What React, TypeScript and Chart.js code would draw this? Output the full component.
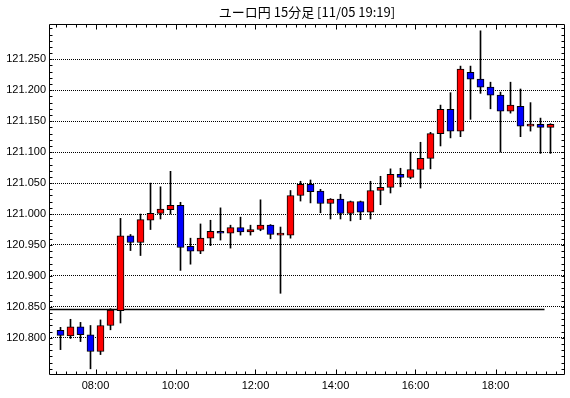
import React, { useEffect, useRef } from 'react';
import { Chart, registerables } from 'chart.js';

Chart.register(...registerables);

const title = 'ユーロ円 15分足 [11/05 19:19]';

const times = [
  '07:00', '07:15', '07:30', '07:45', '08:00', '08:15', '08:30', '08:45',
  '09:00', '09:15', '09:30', '09:45', '10:00', '10:15', '10:30', '10:45',
  '11:00', '11:15', '11:30', '11:45', '12:00', '12:15', '12:30', '12:45',
  '13:00', '13:15', '13:30', '13:45', '14:00', '14:15', '14:30', '14:45',
  '15:00', '15:15', '15:30', '15:45', '16:00', '16:15', '16:30', '16:45',
  '17:00', '17:15', '17:30', '17:45', '18:00', '18:15', '18:30', '18:45',
  '19:00', '19:15',
];

const opens = [
  120.812, 120.803, 120.818, 120.805, 120.778, 120.820, 120.844, 120.965,
  120.954, 120.990, 121.001, 121.007, 121.014, 120.948, 120.940, 120.961,
  120.972, 120.969, 120.978, 120.971, 120.975, 120.982, 120.966, 120.966,
  121.030, 121.048, 121.037, 121.017, 121.024, 121.001, 121.020, 121.003,
  121.038, 121.043, 121.064, 121.059, 121.072, 121.090, 121.130, 121.169,
  121.134, 121.229, 121.218, 121.205, 121.192, 121.166, 121.174, 121.142,
  121.145, 121.140,
];
const highs = [
  120.817, 120.830, 120.825, 120.820, 120.829, 120.847, 120.993, 120.967,
  121.000, 121.050, 121.044, 121.069, 121.019, 120.961, 120.984, 120.990,
  121.010, 120.982, 120.995, 120.982, 121.023, 120.983, 120.979, 121.038,
  121.053, 121.055, 121.040, 121.025, 121.032, 121.021, 121.021, 121.053,
  121.061, 121.073, 121.074, 121.100, 121.116, 121.132, 121.176, 121.196,
  121.239, 121.239, 121.296, 121.213, 121.197, 121.213, 121.202, 121.180,
  121.155, 121.146,
];
const lows = [
  120.781, 120.799, 120.794, 120.750, 120.773, 120.813, 120.824, 120.941,
  120.933, 120.975, 120.992, 121.000, 120.909, 120.919, 120.936, 120.949,
  120.958, 120.945, 120.966, 120.966, 120.973, 120.960, 120.872, 120.961,
  121.021, 121.018, 121.002, 120.992, 120.992, 120.989, 120.991, 120.992,
  121.015, 121.034, 121.044, 121.057, 121.042, 121.073, 121.110, 121.123,
  121.125, 121.153, 121.195, 121.170, 121.100, 121.163, 121.125, 121.134,
  121.098, 121.098,
];
const closes = [
  120.804, 120.818, 120.805, 120.778, 120.820, 120.845, 120.965, 120.954,
  120.991, 121.001, 121.008, 121.014, 120.946, 120.940, 120.961, 120.972,
  120.969, 120.978, 120.971, 120.975, 120.982, 120.967, 120.966, 121.030,
  121.048, 121.036, 121.017, 121.024, 121.001, 121.020, 121.003, 121.038,
  121.043, 121.064, 121.059, 121.072, 121.090, 121.130, 121.169, 121.134,
  121.234, 121.218, 121.205, 121.192, 121.166, 121.176, 121.142, 121.145,
  121.140, 121.145,
];

const hourLabels = ['08:00', '10:00', '12:00', '14:00', '16:00', '18:00'];
const yLabels = [120.8, 120.85, 120.9, 120.95, 121.0, 121.05, 121.1, 121.15, 121.2, 121.25];
const refLevel = 120.846;
const refEndIndex = 48.4;

const X_MIN = -1.15;
const X_MAX = 50.45;
const Y_MIN = 120.74;
const Y_MAX = 121.307;

const UP = '#ff0000';
const DOWN = '#0000ff';
const FONT = { family: '"Liberation Sans", Arial, sans-serif', size: 11 };

const hourPositions = hourLabels.map((h) => times.indexOf(h) - 0.5);

const framePlugin = {
  id: 'frame',
  afterDraw(chart: any) {
    const { ctx, chartArea: a, scales } = chart;
    const xs = scales.x;
    const ys = scales.y;
    ctx.save();
    ctx.strokeStyle = '#000';
    ctx.lineWidth = 1;
    const L = Math.round(a.left) + 0.5;
    const R = Math.round(a.right) - 0.5;
    const T = Math.round(a.top) + 0.5;
    const B = Math.round(a.bottom) - 0.5;
    ctx.beginPath();
    // frame
    ctx.rect(L, T, R - L, B - T);
    // x ticks (bottom and top, inward)
    for (let v = -0.5; v <= times.length - 0.5; v += 1) {
      const px = Math.round(xs.getPixelForValue(v)) + 0.5;
      if (px <= L || px >= R) continue;
      const len = hourPositions.includes(v) ? 5 : 3;
      ctx.moveTo(px, B);
      ctx.lineTo(px, B - len);
      ctx.moveTo(px, T);
      ctx.lineTo(px, T + len);
    }
    // y ticks (left and right, inward), every 0.01
    for (let k = Math.ceil(Y_MIN * 100); k <= Math.floor(Y_MAX * 100); k++) {
      const py = Math.round(ys.getPixelForValue(k / 100)) + 0.5;
      if (py <= T || py >= B) continue;
      ctx.moveTo(L, py);
      ctx.lineTo(L + 3, py);
      ctx.moveTo(R, py);
      ctx.lineTo(R - 3, py);
    }
    ctx.stroke();
    // title centred over the plot
    ctx.fillStyle = '#000';
    ctx.font = '13px "Noto Sans CJK JP", sans-serif';
    ctx.textAlign = 'center';
    ctx.textBaseline = 'middle';
    ctx.fillText(title, (a.left + a.right) / 2, 12);
    ctx.restore();
  },
};

export default function App() {
  const ref = useRef<HTMLCanvasElement | null>(null);

  useEffect(() => {
    document.body.style.margin = '0';
    const canvas = ref.current;
    if (!canvas) return;

    const bodies = times.map((_, i) => ({ x: i, y: [opens[i], closes[i]] }));
    const wicks = times.map((_, i) => ({ x: i, y: [lows[i], highs[i]] }));
    const bodyColors = times.map((_, i) => (closes[i] >= opens[i] ? UP : DOWN));

    const chart = new Chart(canvas, {
      type: 'bar',
      data: {
        datasets: [
          {
            type: 'bar',
            data: bodies as any,
            backgroundColor: bodyColors,
            borderColor: '#000',
            borderWidth: 1,
            borderSkipped: false,
            barThickness: 7,
            minBarLength: 2,
            grouped: false,
            order: 0,
          } as any,
          {
            type: 'bar',
            data: wicks as any,
            backgroundColor: '#000',
            borderWidth: 0,
            barThickness: 1,
            grouped: false,
            order: 1,
          } as any,
          {
            type: 'line',
            data: [
              { x: X_MIN, y: refLevel },
              { x: refEndIndex, y: refLevel },
            ],
            borderColor: '#000',
            borderWidth: 1.5,
            pointRadius: 0,
            order: 2,
          } as any,
        ],
      },
      options: {
        responsive: false,
        maintainAspectRatio: false,
        animation: false,
        layout: { padding: { top: 24, right: 5, left: 0, bottom: 0 } },
        plugins: {
          legend: { display: false },
          tooltip: { enabled: false },
          title: { display: false },
        },
        scales: {
          x: {
            type: 'linear',
            min: X_MIN,
            max: X_MAX,
            offset: false,
            afterFit: (s: any) => {
              s.height = 23;
            },
            afterBuildTicks: (s: any) => {
              s.ticks = hourPositions.map((v) => ({ value: v }));
            },
            ticks: {
              autoSkip: false,
              maxRotation: 0,
              padding: 4,
              color: '#000',
              font: FONT,
              callback: (v: any) => {
                const idx = hourPositions.findIndex((p) => Math.abs(p - v) < 1e-6);
                return idx >= 0 ? hourLabels[idx] : '';
              },
            },
            grid: { display: false, drawTicks: false },
            border: { display: false },
          },
          y: {
            type: 'linear',
            min: Y_MIN,
            max: Y_MAX,
            afterFit: (s: any) => {
              s.width = 49;
            },
            afterBuildTicks: (s: any) => {
              s.ticks = yLabels.map((v) => ({ value: v }));
            },
            ticks: {
              padding: 3,
              color: '#000',
              font: FONT,
              callback: (v: any) => Number(v).toFixed(3),
            },
            grid: { color: '#000', lineWidth: 1, drawTicks: false },
            border: { display: false, dash: [1, 1] },
          },
        },
      } as any,
      plugins: [framePlugin],
    });

    return () => chart.destroy();
  }, []);

  return (
    <div style={{ width: 570, height: 398, background: '#fff' }}>
      <canvas ref={ref} width={570} height={398} />
    </div>
  );
}
